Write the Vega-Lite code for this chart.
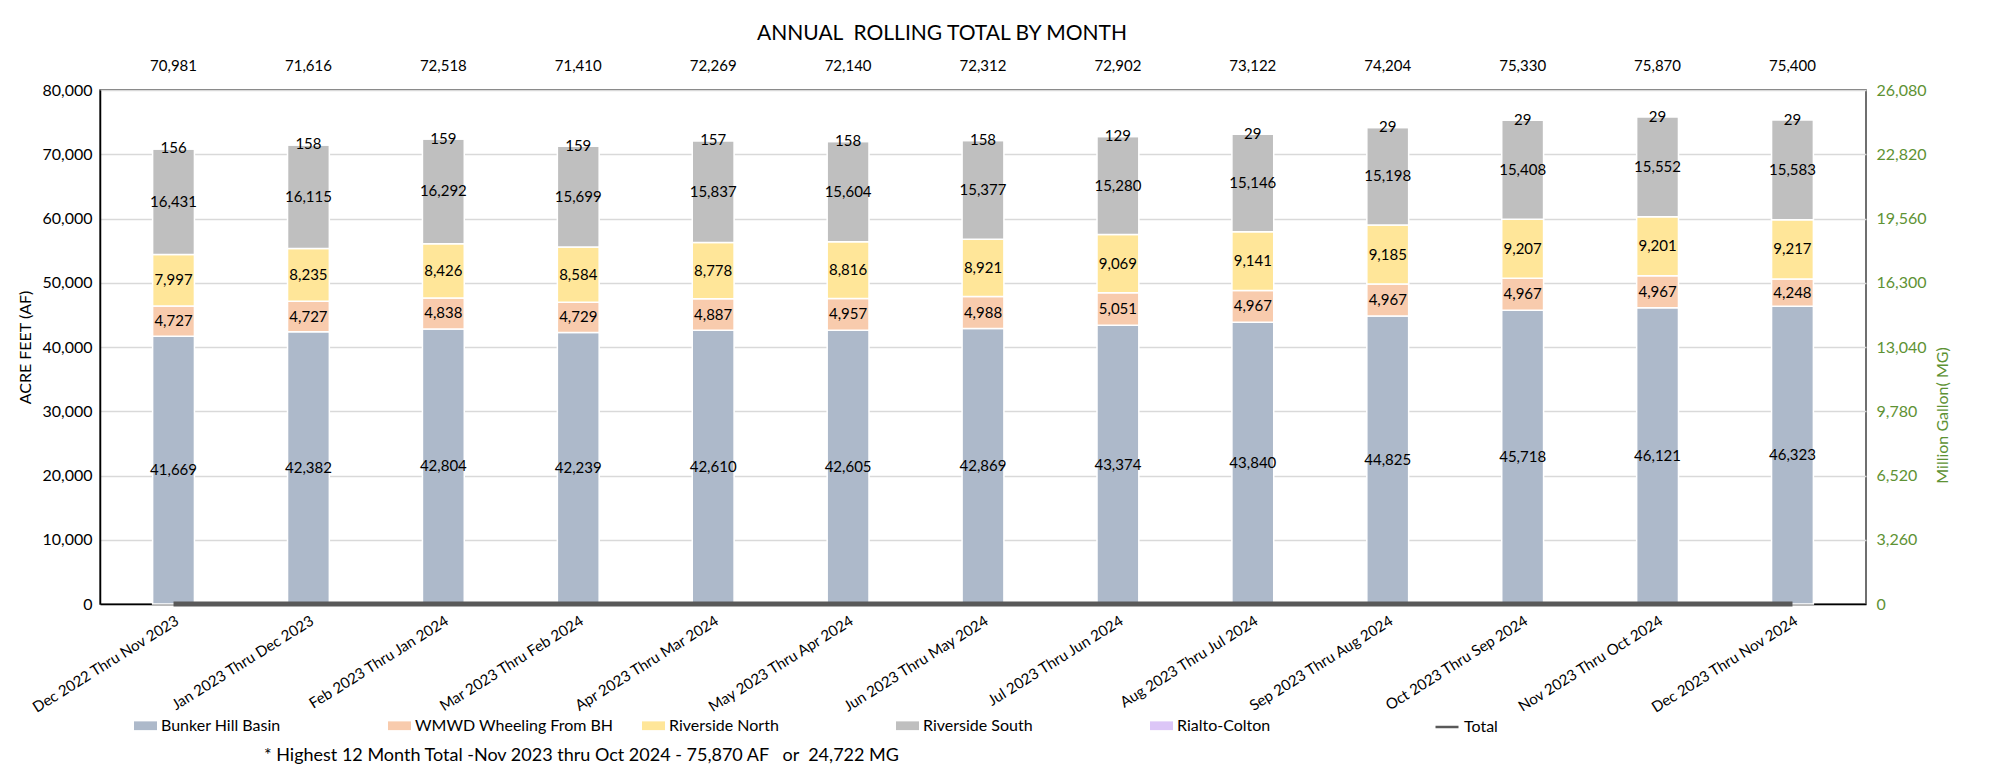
{
  "$schema": "https://vega.github.io/schema/vega-lite/v6.json",
  "width": 1766,
  "height": 514,
  "padding": {"left": 17, "top": 23, "right": 10, "bottom": 5},
  "background": "white",
  "title": {
    "text": "* Highest 12 Month Total -Nov 2023 thru Oct 2024 - 75,870 AF\u00a0\u00a0 or\u00a0 24,722 MG",
    "orient": "bottom",
    "anchor": "start",
    "fontSize": 18,
    "fontWeight": "normal",
    "color": "black",
    "dx": 246,
    "offset": 12
  },
  "datasets": {
    "segs": [
      {"p": "Dec 2022 Thru Nov 2023", "s": "Bunker Hill Basin", "v": 41669, "o": 1},
      {"p": "Dec 2022 Thru Nov 2023", "s": "WMWD Wheeling From BH", "v": 4727, "o": 2},
      {"p": "Dec 2022 Thru Nov 2023", "s": "Riverside North", "v": 7997, "o": 3},
      {"p": "Dec 2022 Thru Nov 2023", "s": "Riverside South", "v": 16431, "o": 4},
      {"p": "Dec 2022 Thru Nov 2023", "s": "Rialto-Colton", "v": 156, "o": 5},
      {"p": "Jan 2023 Thru Dec 2023", "s": "Bunker Hill Basin", "v": 42382, "o": 1},
      {"p": "Jan 2023 Thru Dec 2023", "s": "WMWD Wheeling From BH", "v": 4727, "o": 2},
      {"p": "Jan 2023 Thru Dec 2023", "s": "Riverside North", "v": 8235, "o": 3},
      {"p": "Jan 2023 Thru Dec 2023", "s": "Riverside South", "v": 16115, "o": 4},
      {"p": "Jan 2023 Thru Dec 2023", "s": "Rialto-Colton", "v": 158, "o": 5},
      {"p": "Feb 2023 Thru Jan 2024", "s": "Bunker Hill Basin", "v": 42804, "o": 1},
      {"p": "Feb 2023 Thru Jan 2024", "s": "WMWD Wheeling From BH", "v": 4838, "o": 2},
      {"p": "Feb 2023 Thru Jan 2024", "s": "Riverside North", "v": 8426, "o": 3},
      {"p": "Feb 2023 Thru Jan 2024", "s": "Riverside South", "v": 16292, "o": 4},
      {"p": "Feb 2023 Thru Jan 2024", "s": "Rialto-Colton", "v": 159, "o": 5},
      {"p": "Mar 2023 Thru Feb 2024", "s": "Bunker Hill Basin", "v": 42239, "o": 1},
      {"p": "Mar 2023 Thru Feb 2024", "s": "WMWD Wheeling From BH", "v": 4729, "o": 2},
      {"p": "Mar 2023 Thru Feb 2024", "s": "Riverside North", "v": 8584, "o": 3},
      {"p": "Mar 2023 Thru Feb 2024", "s": "Riverside South", "v": 15699, "o": 4},
      {"p": "Mar 2023 Thru Feb 2024", "s": "Rialto-Colton", "v": 159, "o": 5},
      {"p": "Apr 2023 Thru Mar 2024", "s": "Bunker Hill Basin", "v": 42610, "o": 1},
      {"p": "Apr 2023 Thru Mar 2024", "s": "WMWD Wheeling From BH", "v": 4887, "o": 2},
      {"p": "Apr 2023 Thru Mar 2024", "s": "Riverside North", "v": 8778, "o": 3},
      {"p": "Apr 2023 Thru Mar 2024", "s": "Riverside South", "v": 15837, "o": 4},
      {"p": "Apr 2023 Thru Mar 2024", "s": "Rialto-Colton", "v": 157, "o": 5},
      {"p": "May 2023 Thru Apr 2024", "s": "Bunker Hill Basin", "v": 42605, "o": 1},
      {"p": "May 2023 Thru Apr 2024", "s": "WMWD Wheeling From BH", "v": 4957, "o": 2},
      {"p": "May 2023 Thru Apr 2024", "s": "Riverside North", "v": 8816, "o": 3},
      {"p": "May 2023 Thru Apr 2024", "s": "Riverside South", "v": 15604, "o": 4},
      {"p": "May 2023 Thru Apr 2024", "s": "Rialto-Colton", "v": 158, "o": 5},
      {"p": "Jun 2023 Thru May 2024", "s": "Bunker Hill Basin", "v": 42869, "o": 1},
      {"p": "Jun 2023 Thru May 2024", "s": "WMWD Wheeling From BH", "v": 4988, "o": 2},
      {"p": "Jun 2023 Thru May 2024", "s": "Riverside North", "v": 8921, "o": 3},
      {"p": "Jun 2023 Thru May 2024", "s": "Riverside South", "v": 15377, "o": 4},
      {"p": "Jun 2023 Thru May 2024", "s": "Rialto-Colton", "v": 158, "o": 5},
      {"p": "Jul 2023 Thru Jun 2024", "s": "Bunker Hill Basin", "v": 43374, "o": 1},
      {"p": "Jul 2023 Thru Jun 2024", "s": "WMWD Wheeling From BH", "v": 5051, "o": 2},
      {"p": "Jul 2023 Thru Jun 2024", "s": "Riverside North", "v": 9069, "o": 3},
      {"p": "Jul 2023 Thru Jun 2024", "s": "Riverside South", "v": 15280, "o": 4},
      {"p": "Jul 2023 Thru Jun 2024", "s": "Rialto-Colton", "v": 129, "o": 5},
      {"p": "Aug 2023 Thru Jul 2024", "s": "Bunker Hill Basin", "v": 43840, "o": 1},
      {"p": "Aug 2023 Thru Jul 2024", "s": "WMWD Wheeling From BH", "v": 4967, "o": 2},
      {"p": "Aug 2023 Thru Jul 2024", "s": "Riverside North", "v": 9141, "o": 3},
      {"p": "Aug 2023 Thru Jul 2024", "s": "Riverside South", "v": 15146, "o": 4},
      {"p": "Aug 2023 Thru Jul 2024", "s": "Rialto-Colton", "v": 29, "o": 5},
      {"p": "Sep 2023 Thru Aug 2024", "s": "Bunker Hill Basin", "v": 44825, "o": 1},
      {"p": "Sep 2023 Thru Aug 2024", "s": "WMWD Wheeling From BH", "v": 4967, "o": 2},
      {"p": "Sep 2023 Thru Aug 2024", "s": "Riverside North", "v": 9185, "o": 3},
      {"p": "Sep 2023 Thru Aug 2024", "s": "Riverside South", "v": 15198, "o": 4},
      {"p": "Sep 2023 Thru Aug 2024", "s": "Rialto-Colton", "v": 29, "o": 5},
      {"p": "Oct 2023 Thru Sep 2024", "s": "Bunker Hill Basin", "v": 45718, "o": 1},
      {"p": "Oct 2023 Thru Sep 2024", "s": "WMWD Wheeling From BH", "v": 4967, "o": 2},
      {"p": "Oct 2023 Thru Sep 2024", "s": "Riverside North", "v": 9207, "o": 3},
      {"p": "Oct 2023 Thru Sep 2024", "s": "Riverside South", "v": 15408, "o": 4},
      {"p": "Oct 2023 Thru Sep 2024", "s": "Rialto-Colton", "v": 29, "o": 5},
      {"p": "Nov 2023 Thru Oct 2024", "s": "Bunker Hill Basin", "v": 46121, "o": 1},
      {"p": "Nov 2023 Thru Oct 2024", "s": "WMWD Wheeling From BH", "v": 4967, "o": 2},
      {"p": "Nov 2023 Thru Oct 2024", "s": "Riverside North", "v": 9201, "o": 3},
      {"p": "Nov 2023 Thru Oct 2024", "s": "Riverside South", "v": 15552, "o": 4},
      {"p": "Nov 2023 Thru Oct 2024", "s": "Rialto-Colton", "v": 29, "o": 5},
      {"p": "Dec 2023 Thru Nov 2024", "s": "Bunker Hill Basin", "v": 46323, "o": 1},
      {"p": "Dec 2023 Thru Nov 2024", "s": "WMWD Wheeling From BH", "v": 4248, "o": 2},
      {"p": "Dec 2023 Thru Nov 2024", "s": "Riverside North", "v": 9217, "o": 3},
      {"p": "Dec 2023 Thru Nov 2024", "s": "Riverside South", "v": 15583, "o": 4},
      {"p": "Dec 2023 Thru Nov 2024", "s": "Rialto-Colton", "v": 29, "o": 5}
    ],
    "tots": [
      {"p": "Dec 2022 Thru Nov 2023", "t": 70981, "n": "Total"},
      {"p": "Jan 2023 Thru Dec 2023", "t": 71616, "n": "Total"},
      {"p": "Feb 2023 Thru Jan 2024", "t": 72518, "n": "Total"},
      {"p": "Mar 2023 Thru Feb 2024", "t": 71410, "n": "Total"},
      {"p": "Apr 2023 Thru Mar 2024", "t": 72269, "n": "Total"},
      {"p": "May 2023 Thru Apr 2024", "t": 72140, "n": "Total"},
      {"p": "Jun 2023 Thru May 2024", "t": 72312, "n": "Total"},
      {"p": "Jul 2023 Thru Jun 2024", "t": 72902, "n": "Total"},
      {"p": "Aug 2023 Thru Jul 2024", "t": 73122, "n": "Total"},
      {"p": "Sep 2023 Thru Aug 2024", "t": 74204, "n": "Total"},
      {"p": "Oct 2023 Thru Sep 2024", "t": 75330, "n": "Total"},
      {"p": "Nov 2023 Thru Oct 2024", "t": 75870, "n": "Total"},
      {"p": "Dec 2023 Thru Nov 2024", "t": 75400, "n": "Total"}
    ]
  },
  "encoding": {
    "x": {
      "field": "p",
      "type": "nominal",
      "title": null,
      "scale": {
        "domain": ["Dec 2022 Thru Nov 2023", "Jan 2023 Thru Dec 2023", "Feb 2023 Thru Jan 2024", "Mar 2023 Thru Feb 2024", "Apr 2023 Thru Mar 2024", "May 2023 Thru Apr 2024", "Jun 2023 Thru May 2024", "Jul 2023 Thru Jun 2024", "Aug 2023 Thru Jul 2024", "Sep 2023 Thru Aug 2024", "Oct 2023 Thru Sep 2024", "Nov 2023 Thru Oct 2024", "Dec 2023 Thru Nov 2024"],
        "paddingInner": 0.69,
        "paddingOuter": 0.39
      },
      "axis": {
        "title": null,
        "labelAngle": -32,
        "labelAlign": "right",
        "labelBaseline": "top",
        "labelFontSize": 15,
        "labelPadding": 9,
        "labelColor": "black",
        "labelLimit": 400,
        "ticks": false,
        "domainColor": "black",
        "domainWidth": 1.5,
        "grid": false
      }
    }
  },
  "layer": [
    {
      "layer": [
        {
          "data": {"name": "segs"},
          "mark": {"type": "bar", "stroke": "white", "strokeWidth": 1.5},
          "encoding": {
            "y": {
              "field": "v",
              "type": "quantitative",
              "stack": "zero",
              "title": "ACRE FEET (AF)",
              "scale": {"domain": [0, 80000]},
              "axis": {
                "title": "ACRE FEET (AF)",
                "values": [0, 10000, 20000, 30000, 40000, 50000, 60000, 70000, 80000],
                "format": ",.0f",
                "grid": true,
                "gridColor": "#D9D9D9",
                "gridWidth": 1.5,
                "ticks": false,
                "domainColor": "black",
                "domainWidth": 1.5,
                "labelFontSize": 16,
                "labelColor": "black",
                "labelPadding": 8,
                "titleFontSize": 16,
                "titleFontWeight": "normal",
                "titleColor": "black",
                "titlePadding": 8
              }
            },
            "color": {
              "field": "s",
              "type": "nominal",
              "scale": {
                "domain": ["Bunker Hill Basin", "WMWD Wheeling From BH", "Riverside North", "Riverside South", "Rialto-Colton"],
                "range": ["#ADB9CA", "#F8CBAD", "#FFE699", "#BFBFBF", "#DCC6F7"]
              },
              "legend": {
                "orient": "none",
                "legendX": 34,
                "legendY": 624,
                "direction": "horizontal",
                "columns": 5,
                "gridAlign": "all",
                "columnPadding": 28,
                "title": null,
                "symbolType": "M-1,-0.38H1V0.38H-1Z",
                "symbolSize": 529,
                "symbolStrokeWidth": 0,
                "labelFontSize": 16,
                "labelColor": "black",
                "labelOffset": 4,
                "labelLimit": 300
              }
            },
            "order": {"field": "o", "type": "quantitative"}
          }
        },
        {
          "data": {"name": "segs"},
          "mark": {"type": "text", "fontSize": 15, "color": "black", "baseline": "middle"},
          "encoding": {
            "y": {"field": "v", "type": "quantitative", "stack": "zero", "bandPosition": 0.5, "title": "ACRE FEET (AF)"},
            "detail": {"field": "s", "type": "nominal"},
            "order": {"field": "o", "type": "quantitative"},
            "text": {"field": "v", "type": "quantitative", "format": ","}
          }
        },
        {
          "data": {"name": "tots"},
          "mark": {"type": "text", "fontSize": 15, "color": "black", "baseline": "middle", "dy": -24},
          "encoding": {
            "y": {"datum": 80000, "type": "quantitative", "title": "ACRE FEET (AF)"},
            "text": {"field": "t", "type": "quantitative", "format": ","}
          }
        },
        {
          "data": {"values": [{"h": "ANNUAL\u00a0 ROLLING TOTAL BY MONTH"}]},
          "mark": {"type": "text", "fontSize": 21, "color": "black", "baseline": "middle", "dy": -56, "dx": -41},
          "encoding": {
            "x": {"datum": "Jun 2023 Thru May 2024", "type": "nominal", "title": null},
            "y": {"datum": 80000, "type": "quantitative", "title": "ACRE FEET (AF)"},
            "text": {"field": "h", "type": "nominal"}
          }
        }
      ]
    },
    {
      "data": {"name": "tots"},
      "mark": {"type": "line", "strokeWidth": 5, "color": "#595959"},
      "encoding": {
        "y": {
          "datum": 0,
          "type": "quantitative",
          "title": "Million Gallon( MG)",
          "scale": {"domain": [0, 26080]},
          "axis": {
            "orient": "right",
            "title": "Million Gallon( MG)",
            "values": [0, 3260, 6520, 9780, 13040, 16300, 19560, 22820, 26080],
            "format": ",.0f",
            "grid": false,
            "ticks": false,
            "domain": false,
            "labelFontSize": 16,
            "labelColor": "#5E9234",
            "labelPadding": 10,
            "titleFontSize": 16,
            "titleFontWeight": "normal",
            "titleColor": "#5E9234",
            "titleAngle": 270,
            "titleBaseline": "top",
            "titlePadding": 8,
            "titleY": 325
          }
        },
        "stroke": {
          "field": "n",
          "type": "nominal",
          "scale": {"range": ["#595959"]},
          "legend": {
            "orient": "none",
            "legendX": 1334,
            "legendY": 624,
            "title": null,
            "symbolType": "stroke",
            "symbolSize": 529,
            "symbolStrokeWidth": 2.5,
            "labelFontSize": 16,
            "labelColor": "black",
            "labelOffset": 4
          }
        }
      }
    }
  ],
  "resolve": {"scale": {"y": "independent"}},
  "config": {
    "font": "Lato",
    "view": {"stroke": "#404040", "strokeWidth": 1.5}
  }
}
